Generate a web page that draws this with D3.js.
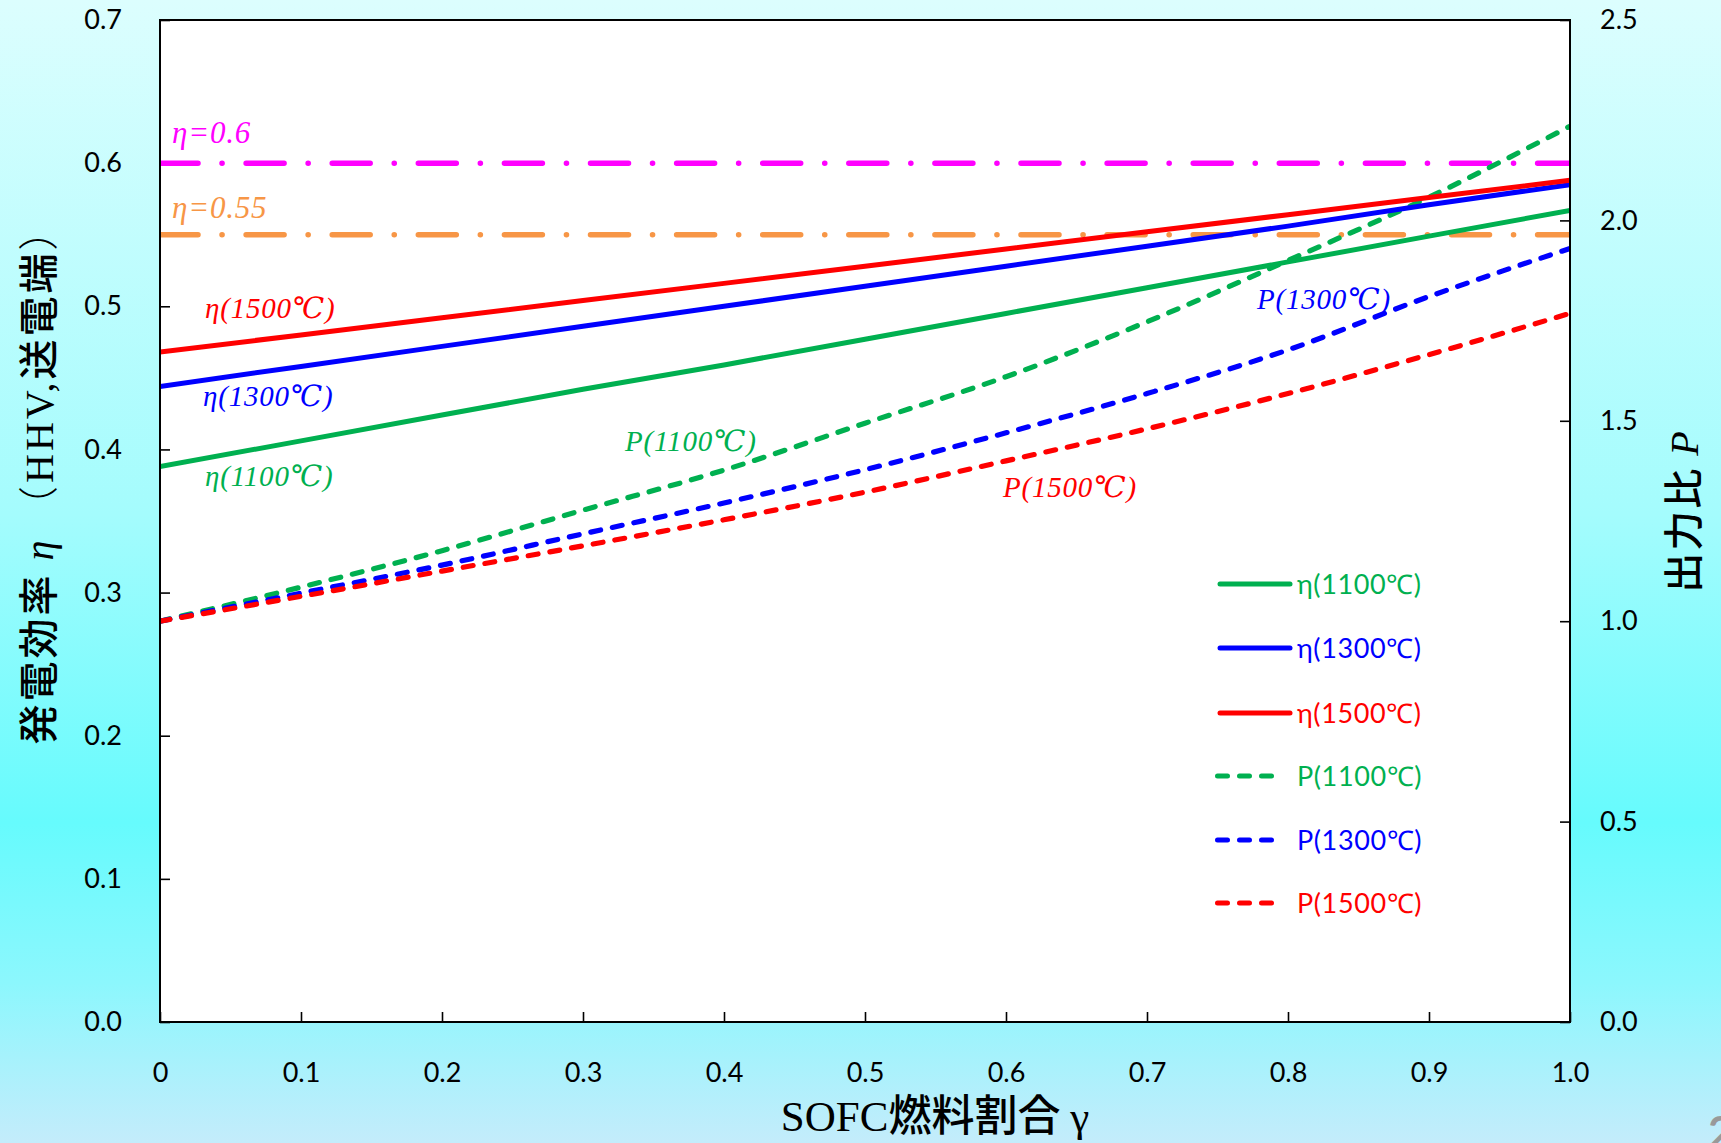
<!DOCTYPE html>
<html><head><meta charset="utf-8">
<script src="https://cdn.jsdelivr.net/npm/d3@7"></script>
<style>body{margin:0;overflow:hidden;} svg{display:block}</style>
</head><body>
<svg id="c" width="1721" height="1143"></svg>
<script>
// ---- data ----
const gamma = [0, 0.1, 0.2, 0.3, 0.4, 0.5, 0.6, 0.7, 0.8, 0.9, 1.0];
const eta1100 = [0.388, 0.406, 0.424, 0.442, 0.459, 0.477, 0.495, 0.513, 0.531, 0.549, 0.567];
const eta1300 = [0.444, 0.458, 0.472, 0.486, 0.500, 0.514, 0.528, 0.542, 0.556, 0.571, 0.585];
const eta1500 = [0.468, 0.480, 0.492, 0.504, 0.516, 0.528, 0.540, 0.552, 0.564, 0.576, 0.588];
const p1100 = [1.000, 1.085, 1.176, 1.277, 1.377, 1.494, 1.610, 1.747, 1.900, 2.058, 2.235];
const p1300 = [1.000, 1.070, 1.140, 1.218, 1.295, 1.378, 1.470, 1.568, 1.677, 1.810, 1.930];
const p1500 = [1.000, 1.062, 1.125, 1.188, 1.253, 1.322, 1.400, 1.480, 1.568, 1.665, 1.768];
const seriesNames = ["η(1100℃)", "η(1300℃)", "η(1500℃)", "P(1100℃)", "P(1300℃)", "P(1500℃)"];
const refEta = [0.6, 0.55];
const refLabels = ["η=0.6", "η=0.55"];
const xTicks = [0, 0.1, 0.2, 0.3, 0.4, 0.5, 0.6, 0.7, 0.8, 0.9, 1.0];
const xTickLabels = ["0", "0.1", "0.2", "0.3", "0.4", "0.5", "0.6", "0.7", "0.8", "0.9", "1.0"];
const leftTicks = [0, 0.1, 0.2, 0.3, 0.4, 0.5, 0.6, 0.7];
const rightTicks = [0, 0.5, 1.0, 1.5, 2.0, 2.5];

// ---- layout ----
const svg = d3.select("#c");
const L = 160, R = 1570, T = 20, B = 1022;
const x = d3.scaleLinear([0, 1], [L, R]);
const yL = d3.scaleLinear([0, 0.7], [B, T]);
const yR = d3.scaleLinear([0, 2.5], [B, T]);

const defs = svg.append("defs");
const grad = defs.append("linearGradient").attr("id", "bg").attr("x1", 0).attr("y1", 0).attr("x2", 0).attr("y2", 1);
[[0, "#dcfefe"], [0.45, "#a4fcfd"], [0.72, "#66fbfd"], [0.86, "#8cf7fd"], [1, "#c4ecfb"]]
  .forEach(([o, c]) => grad.append("stop").attr("offset", o).attr("stop-color", c));
defs.append("clipPath").attr("id", "clip").append("rect")
  .attr("x", L).attr("y", T).attr("width", R - L).attr("height", B - T);

svg.append("rect").attr("width", 1721).attr("height", 1143).attr("fill", "url(#bg)");
svg.append("rect").attr("x", L).attr("y", T).attr("width", R - L).attr("height", B - T).attr("fill", "#fff");

const tickFont = "Lato, 'Open Sans', sans-serif";
function styleAxis(g) {
  g.select(".domain").remove();
  g.selectAll(".tick line").attr("stroke", "#000").attr("stroke-width", 1.6);
  g.selectAll(".tick text").attr("fill", "#000").attr("font-family", tickFont).attr("font-size", 27);
}
svg.append("g").attr("transform", `translate(0,${B})`)
  .call(d3.axisBottom(x).tickValues(xTicks).tickSize(-10).tickPadding(41).tickFormat((d, i) => xTickLabels[i]))
  .call(styleAxis);
svg.append("g").attr("transform", `translate(${L},0)`)
  .call(d3.axisLeft(yL).tickValues(leftTicks).tickSize(-10).tickPadding(38).tickFormat(d3.format(".1f")))
  .call(styleAxis);
svg.append("g").attr("transform", `translate(${R},0)`)
  .call(d3.axisRight(yR).tickValues(rightTicks).tickSize(-10).tickPadding(30).tickFormat(d3.format(".1f")))
  .call(styleAxis);

// ---- lines ----
const plot = svg.append("g").attr("clip-path", "url(#clip)");
const refColors = ["#ff00ff", "#f79646"];
refEta.forEach((v, i) => {
  plot.append("line").attr("x1", x(0)).attr("x2", x(1)).attr("y1", yL(v)).attr("y2", yL(v))
    .attr("stroke", refColors[i]).attr("stroke-width", 5.5).attr("stroke-linecap", "round")
    .attr("stroke-dasharray", "38,24,0.1,24");
});

const colors = ["#00b050", "#0000ff", "#ff0000"];
const etaSeries = [eta1100, eta1300, eta1500];
const pSeries = [p1100, p1300, p1500];
const lineEta = d3.line().x((d, i) => x(gamma[i])).y(d => yL(d));
const lineP = d3.line().x((d, i) => x(gamma[i])).y(d => yR(d)).curve(d3.curveMonotoneX);

pSeries.forEach((s, i) => {
  plot.append("path").datum(s).attr("d", lineP).attr("fill", "none")
    .attr("stroke", colors[i]).attr("stroke-width", 5.2).attr("stroke-linecap", "round")
    .attr("stroke-dasharray", "10,12");
});
etaSeries.forEach((s, i) => {
  plot.append("path").datum(s).attr("d", lineEta).attr("fill", "none")
    .attr("stroke", colors[i]).attr("stroke-width", 5);
});
svg.append("rect").attr("x", L).attr("y", T).attr("width", R - L).attr("height", B - T)
  .attr("fill", "none").attr("stroke", "#000").attr("stroke-width", 2);

// ---- in-plot labels ----
const serif = "'Liberation Serif', 'DejaVu Serif', serif";
const inLabels = [
  {t: refLabels[0], x: 172, y: 143, c: refColors[0], s: 31},
  {t: refLabels[1], x: 172, y: 218, c: refColors[1], s: 31},
  {t: seriesNames[2], x: 205, y: 318, c: colors[2], s: 29},
  {t: seriesNames[1], x: 203, y: 406, c: colors[1], s: 29},
  {t: seriesNames[0], x: 205, y: 486, c: colors[0], s: 29},
  {t: seriesNames[3], x: 625, y: 451, c: colors[0], s: 29},
  {t: seriesNames[5], x: 1003, y: 497, c: colors[2], s: 29},
  {t: seriesNames[4], x: 1257, y: 309, c: colors[1], s: 29},
];
inLabels.forEach(d => {
  svg.append("text").attr("x", d.x).attr("y", d.y).attr("fill", d.c)
    .attr("font-family", serif).attr("font-style", "italic").attr("font-size", d.s)
    .attr("letter-spacing", 0.8).text(d.t);
});

// ---- legend ----
const legY = [584, 648, 713, 776, 840, 903];
seriesNames.forEach((n, i) => {
  const c = colors[i % 3];
  const dashed = i >= 3;
  svg.append("line").attr("x1", dashed ? 1217.5 : 1220).attr("x2", dashed ? 1282.5 : 1290)
    .attr("y1", legY[i]).attr("y2", legY[i]).attr("stroke", c).attr("stroke-width", 5)
    .attr("stroke-linecap", "round").attr("stroke-dasharray", dashed ? "10,12" : null);
  svg.append("text").attr("x", 1297).attr("y", legY[i] + 10).attr("fill", c)
    .attr("font-family", tickFont).attr("font-size", 27).attr("letter-spacing", 0.6).text(n);
});

// ---- axis titles ----
const cjk = "'Noto Sans CJK JP', sans-serif";
const lt = svg.append("text").attr("transform", "translate(53,476) rotate(-90)")
  .attr("text-anchor", "middle").attr("font-size", 40).attr("letter-spacing", 3).attr("fill", "#000");
lt.append("tspan").attr("font-family", cjk).attr("font-weight", 500).text("発電効率 ");
lt.append("tspan").attr("font-family", serif).attr("font-style", "italic").text("η");
lt.append("tspan").attr("font-family", cjk).attr("font-weight", 300).text(" （");
lt.append("tspan").attr("font-family", serif).text("HHV,");
lt.append("tspan").attr("font-family", cjk).attr("font-weight", 500).text("送電端");
lt.append("tspan").attr("font-family", cjk).attr("font-weight", 300).text("）");

const rt = svg.append("text").attr("transform", "translate(1698,511) rotate(-90)")
  .attr("text-anchor", "middle").attr("font-size", 40).attr("letter-spacing", 2).attr("fill", "#000");
rt.append("tspan").attr("font-family", cjk).attr("font-weight", 500).text("出力比 ");
rt.append("tspan").attr("font-family", serif).attr("font-style", "italic").text("P");

const xt = svg.append("text").attr("x", 935).attr("y", 1131).attr("text-anchor", "middle")
  .attr("font-size", 43).attr("fill", "#000");
xt.append("tspan").attr("font-family", serif).text("SOFC");
xt.append("tspan").attr("font-family", cjk).attr("font-weight", 500).text("燃料割合 ");
xt.append("tspan").attr("font-family", serif).text("γ");

svg.append("text").attr("x", 1708).attr("y", 1148).attr("fill", "#999")
  .attr("font-family", tickFont).attr("font-weight", 700).attr("font-size", 44).text("2");
</script>
</body></html>
